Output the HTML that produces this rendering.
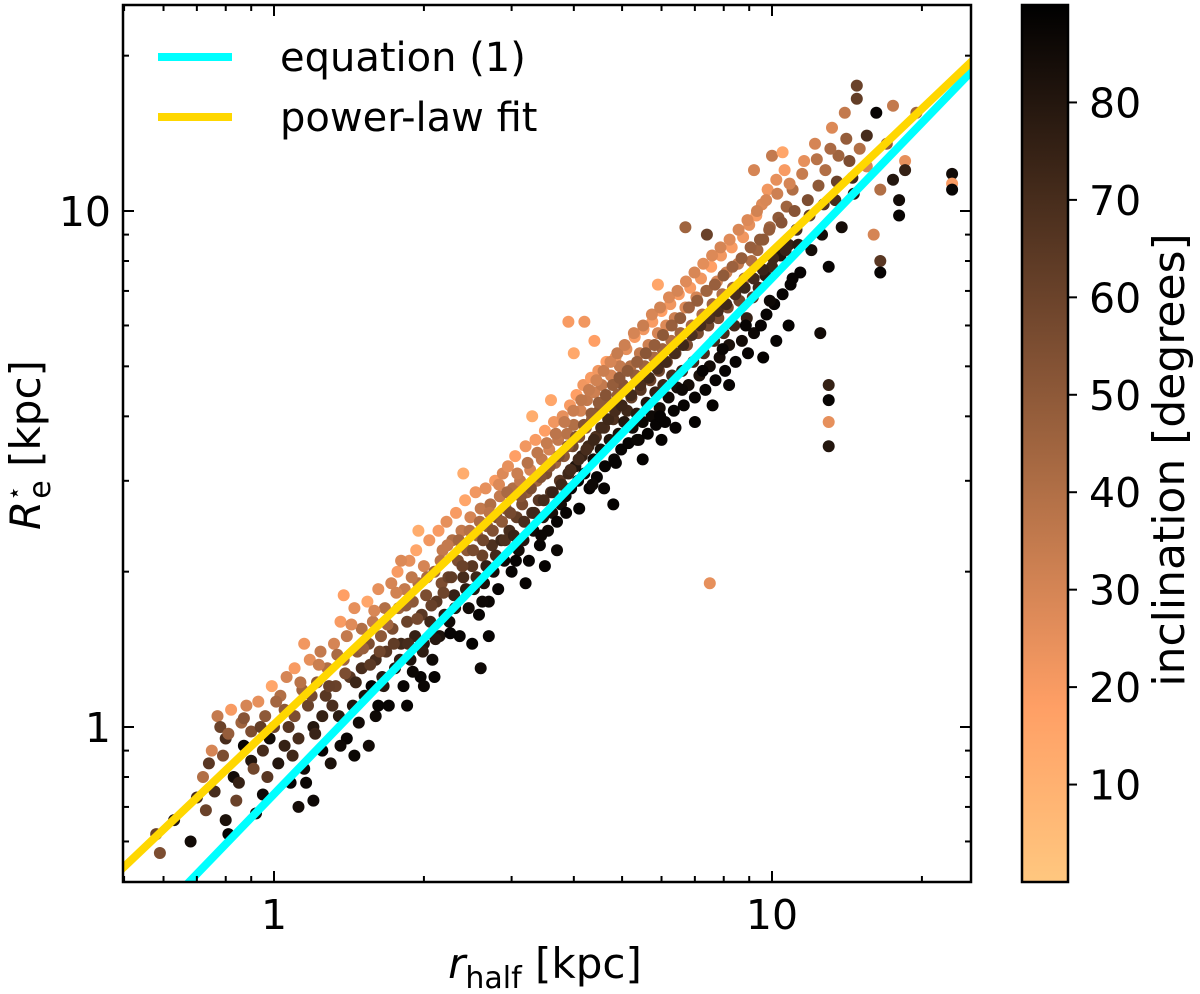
<!DOCTYPE html>
<html><head><meta charset="utf-8"><style>
html,body{margin:0;padding:0;background:#fff;}
svg{display:block;font-family:"DejaVu Sans","Liberation Sans",sans-serif;}
</style></head><body>
<svg id="chart" width="1200" height="994" viewBox="0 0 1200 994" xmlns="http://www.w3.org/2000/svg">
<defs>
<linearGradient id="cmap" x1="0" y1="1" x2="0" y2="0"></linearGradient>
<clipPath id="plotclip"><rect x="123" y="5" width="848" height="877"/></clipPath>
</defs>
<g id="points" clip-path="url(#plotclip)"></g>
<g id="lines" clip-path="url(#plotclip)"></g>
<g id="axes"></g>
<g id="legend">
<line x1="158" y1="57" x2="232" y2="57" stroke="#00FFFF" stroke-width="8"/>
<text x="280" y="71" font-size="40">equation (1)</text>
<line x1="158" y1="117" x2="232" y2="117" stroke="#FFD700" stroke-width="8"/>
<text x="280" y="131" font-size="40">power-law fit</text>
</g>
<text x="545" y="978" font-size="42" text-anchor="middle"><tspan font-style="italic">r</tspan><tspan font-size="30" dy="10">half</tspan><tspan dy="-10"> [kpc]</tspan></text>
<text transform="translate(40,445) rotate(-90)" font-size="42" text-anchor="middle"><tspan font-style="italic">R</tspan><tspan font-size="24" dy="-18">⋆</tspan><tspan font-size="30" dx="-13" dy="28">e</tspan><tspan dy="-10"> [kpc]</tspan></text>
<g id="cbar"></g>
<text transform="translate(1184,460) rotate(-90)" font-size="44" text-anchor="middle">inclination [degrees]</text>
</svg>
<script>
// ---- data ----
const rHalf = [0.58,0.59,0.63,0.68,0.7,0.72,0.74,0.75,0.73,
0.77,0.78,0.8,0.79,0.82,0.83,0.85,0.86,0.87,0.88,0.9,0.9,0.84,0.8,0.92,0.93,0.95,0.96,0.97,0.98,0.99,0.76,0.81,
1.0,1.02,1.03,1.05,1.06,1.08,1.1,1.1,1.12,1.14,1.15,1.17,1.18,1.2,1.2,1.22,1.24,1.25,1.27,1.28,1.3,1.15,1.05,1.25,1.12,
1.32,1.33,1.35,1.36,1.38,1.4,1.4,1.42,1.44,1.45,1.47,1.48,1.5,1.5,1.52,1.54,1.55,1.57,1.58,1.6,1.6,1.62,1.64,1.65,1.67,1.68,1.7,1.45,1.55,1.38,
1.72,1.73,1.75,1.77,1.78,1.8,1.82,1.83,1.85,1.87,1.88,1.9,1.92,1.93,1.95,1.97,1.98,2.0,2.0,2.02,2.05,2.06,2.08,2.1,2.12,2.14,2.15,2.17,2.18,2.2,1.85,2.0,2.1,1.95,1.8,
2.22,2.24,2.25,2.28,2.3,2.32,2.34,2.36,2.38,2.4,2.42,2.44,2.46,2.48,2.5,2.52,2.54,2.56,2.58,2.6,2.62,2.64,2.66,2.68,2.7,2.72,2.74,2.76,2.78,2.8,2.82,2.84,2.86,2.88,2.9,2.5,2.7,2.4,2.6,
2.92,2.95,2.97,3.0,3.02,3.05,3.07,3.1,3.12,3.15,3.17,3.2,3.22,3.25,3.27,3.3,3.32,3.35,3.37,3.4,3.42,3.45,3.47,3.5,3.52,3.55,3.57,3.6,3.62,3.65,3.67,3.7,3.72,3.75,3.77,3.8,3.2,3.5,3.7,3.3,3.6,
3.82,3.85,3.88,3.9,3.93,3.95,3.98,4.0,4.03,4.05,4.08,4.1,4.13,4.15,4.18,4.2,4.23,4.25,4.28,4.3,4.33,4.35,4.38,4.4,4.43,4.45,4.48,4.5,4.53,4.55,4.6,4.62,4.65,4.7,4.72,4.75,4.8,4.82,4.85,4.9,4.92,4.95,4.98,4.1,4.6,4.0,4.4,3.9,4.2,4.8,
5.02,5.05,5.1,5.12,5.15,5.2,5.22,5.25,5.3,5.33,5.35,5.4,5.43,5.45,5.5,5.52,5.55,5.6,5.63,5.65,5.7,5.73,5.75,5.8,5.83,5.85,5.9,5.93,5.95,6.0,6.03,6.05,6.1,6.13,6.15,6.2,6.25,6.28,6.3,6.35,6.38,6.4,6.45,6.5,5.5,6.0,6.4,5.9,
6.55,6.6,6.65,6.7,6.75,6.8,6.85,6.9,6.95,7.0,7.05,7.1,7.15,7.2,7.25,7.3,7.35,7.4,7.45,7.5,7.55,7.6,7.65,7.7,7.75,7.8,7.85,7.9,7.95,8.0,8.05,8.1,8.15,8.2,8.3,8.35,8.4,8.45,7.0,7.6,8.2,6.7,7.5,7.4,
8.55,8.6,8.7,8.75,8.8,8.9,8.95,9.0,9.1,9.15,9.2,9.3,9.35,9.4,9.5,9.55,9.6,9.7,9.75,9.8,9.9,10.0,10.1,10.2,10.3,10.4,10.5,10.6,10.7,10.8,10.9,10.0,9.2,10.5,9.6,10.2,10.8,
11.0,11.2,11.4,11.6,11.8,12.0,12.2,12.4,12.6,12.8,13.0,13.2,13.4,13.6,13.8,14.0,14.3,14.6,13.0,13.0,13.0,13.0,12.5,14.8,14.8,15.5,15.5,16.5,16.5,16.5,16.0,16.2,15.0,
17.0,17.5,18.0,18.5,18.5,18.0,23.0,23.0,23.0,19.5,17.5,
0.81,0.87,0.94,0.91,1.01,1.07,1.13,1.09,1.19,1.23,1.21,1.29,1.34,1.31,1.39,1.43,1.46,1.51,1.56,1.59,1.63,1.66,1.69,1.74,1.76,1.79,1.84,1.86,1.89,1.94,1.99,
2.03,2.07,2.11,2.16,2.19,2.23,2.27,2.31,2.35,2.39,2.43,2.47,2.51,2.55,2.59,2.63,2.67,2.71,2.75,2.79,2.83,2.87,2.91,2.94,2.98,
3.03,3.08,3.13,3.18,3.23,3.28,3.33,3.38,3.43,3.48,3.53,3.58,3.63,3.68,3.73,3.78,3.83,3.89,3.94,3.99,
4.04,4.09,4.14,4.19,4.24,4.29,4.34,4.39,4.44,4.49,4.54,4.59,4.64,4.69,4.74,4.79,4.84,4.89,4.94,4.99,
5.06,5.13,5.21,5.28,5.36,5.44,5.51,5.58,5.66,5.74,5.81,5.89,5.96,6.04,6.12,6.21,6.29,6.37,6.46,6.54,6.63,6.72,6.81,6.9,6.99,
7.08,7.18,7.28,7.38,7.48,7.58,7.68,7.78,7.88,7.99,8.09,8.22,8.33,8.44,8.57,8.69,8.81,8.93,9.06,9.19,9.33,9.46,9.59,9.73,9.87,
10.05,10.25,10.45,10.65,10.85,11.1,11.3,11.5,11.9,12.3,12.7,13.1,13.5,14.1,14.5,
0.95,1.16,1.36,1.62,1.9,2.26,2.62,3.06,3.44,3.86,4.36,4.86,5.36,5.96,6.6,7.26,7.96,8.86,9.9,11.0];
const reStar = [0.62,0.57,0.66,0.6,0.73,0.8,0.85,0.9,0.69,
1.05,1.0,0.95,0.88,1.08,0.8,0.78,1.02,0.92,1.1,0.86,0.98,0.72,0.66,0.68,1.12,0.9,1.05,0.8,0.95,1.2,0.75,0.62,
1.0,0.85,1.15,0.92,1.25,0.78,1.05,1.3,0.95,1.18,0.83,1.1,1.35,1.0,0.72,1.22,1.4,0.9,1.15,1.3,0.85,1.45,1.08,1.05,0.7,
1.45,1.2,1.05,1.6,1.35,0.95,1.5,1.25,1.1,1.7,1.4,1.02,1.55,1.3,1.15,1.75,1.45,1.2,1.6,1.35,1.05,1.85,1.5,1.25,1.7,1.4,1.1,0.88,0.92,1.8,
1.9,1.55,1.3,2.0,1.7,1.45,1.2,1.85,1.6,2.1,1.35,1.75,1.5,2.2,1.9,1.25,1.65,2.05,1.45,1.8,2.3,1.6,1.35,2.0,1.75,2.4,1.5,1.9,2.2,1.65,1.1,1.2,1.25,2.4,2.1,
2.5,1.95,1.6,2.3,1.8,2.6,2.1,1.5,2.4,1.95,2.75,2.2,1.7,2.55,2.05,1.85,2.85,2.35,1.65,2.65,2.15,1.9,2.9,2.45,1.75,2.7,2.25,2.0,3.0,2.55,1.85,2.8,2.3,3.1,2.1,1.45,1.5,3.1,1.3,
2.65,3.2,2.4,2.0,2.9,3.35,2.55,2.2,3.0,2.7,2.3,3.5,2.85,2.1,3.15,2.6,2.4,3.6,3.0,2.75,2.25,3.3,2.55,3.75,3.1,2.4,3.45,2.85,2.6,3.9,3.25,2.5,3.6,3.0,2.7,4.0,1.9,2.05,2.2,4.0,4.3,
3.35,2.8,3.7,3.1,4.2,2.9,3.5,3.85,3.2,4.4,3.0,3.65,4.1,3.35,4.6,3.1,3.8,4.3,3.5,2.9,4.75,3.95,3.3,4.45,3.65,3.05,4.9,4.1,3.45,4.6,3.8,3.2,5.1,4.25,3.6,4.8,3.95,3.3,5.2,4.4,3.7,5.0,3.45,2.65,2.9,5.3,5.6,6.1,6.1,2.7,
4.6,3.9,5.4,4.1,3.55,5.0,4.35,3.8,5.7,4.8,4.05,3.6,5.3,4.5,3.9,5.9,5.0,4.25,3.7,5.5,4.7,4.0,6.1,5.2,4.45,3.85,5.8,4.9,4.15,6.4,5.4,4.6,3.9,6.0,5.1,4.35,6.6,5.6,4.8,4.1,6.2,5.3,4.55,6.9,3.3,3.6,3.8,7.2,
5.8,4.9,4.2,6.5,5.5,4.6,7.1,6.0,5.1,4.35,6.8,5.8,4.8,7.4,6.3,5.3,4.5,7.0,6.0,5.0,7.8,6.6,5.6,4.7,7.3,6.2,5.2,8.2,6.9,5.8,4.9,7.6,6.5,5.5,8.5,7.1,6.0,5.1,3.9,4.2,4.6,9.3,1.9,9.0,
7.9,6.7,5.6,8.9,7.4,6.2,5.3,9.4,8.0,6.8,5.8,9.8,8.4,7.1,6.0,10.3,8.8,7.5,6.3,11.0,9.3,7.8,6.6,11.5,9.7,8.2,6.9,12.0,10.2,8.6,7.2,12.8,12.0,13.0,5.2,5.6,6.0,
11.0,9.2,7.6,12.5,10.5,8.4,13.5,11.2,9.0,12.0,7.8,14.5,10.5,12.8,9.3,15.5,12.5,10.8,4.6,4.3,3.9,3.5,5.8,16.5,17.5,14.0,12.2,11.0,8.0,7.6,9.0,15.5,13.2,
13.5,11.5,10.5,12.5,12.0,9.8,11.8,11.3,11.0,15.5,16.0,
0.97,1.04,1.0,0.83,1.12,1.0,1.22,0.88,1.15,1.32,0.97,1.2,1.38,1.1,1.27,1.58,1.22,1.42,1.32,1.68,1.4,1.2,1.58,1.45,1.82,1.35,1.72,1.45,1.95,1.62,1.4,
1.95,1.72,1.48,2.1,1.82,2.25,1.95,1.7,2.3,2.05,1.85,2.4,2.2,1.95,2.5,2.3,2.05,2.6,2.4,2.15,2.95,2.5,2.3,2.85,2.6,
2.35,3.1,2.8,2.5,3.25,2.9,2.6,3.4,3.05,2.75,3.55,3.2,2.85,3.7,3.35,2.95,3.9,3.5,3.15,4.1,
3.65,3.3,4.3,3.85,3.45,4.5,4.05,3.6,4.7,4.25,3.8,4.9,4.4,3.95,5.1,4.6,4.1,5.3,4.75,4.2,
5.5,4.9,4.4,5.8,5.1,4.6,6.0,5.3,4.75,6.3,5.5,4.95,6.5,5.75,5.1,6.8,6.0,5.3,7.0,6.2,5.5,7.3,6.5,5.75,7.6,
6.7,6.0,7.9,7.0,6.2,8.2,7.2,6.4,8.5,7.5,6.6,8.8,7.8,6.9,9.2,8.1,7.1,9.6,8.5,7.4,10.0,8.8,7.7,10.5,9.2,
8.1,10.8,9.5,8.4,11.3,10.0,8.6,11.8,9.8,12.6,10.3,13.2,11.4,13.8,11.6,
0.74,0.78,0.92,1.1,1.28,1.52,1.75,2.1,2.35,2.6,2.95,3.25,3.6,4.0,4.5,4.9,5.4,6.0,6.7,7.4];
const incl = [60,55,80,85,70,40,65,30,60,
35,60,70,55,20,85,75,45,88,30,80,55,60,82,85,25,70,50,65,85,15,70,88,
60,80,40,75,30,88,55,20,70,45,85,60,25,80,86,50,35,88,65,40,82,22,50,75,84,
30,60,78,20,45,88,35,65,80,25,50,85,40,70,82,15,55,88,35,70,86,25,50,78,40,65,88,87,85,18,
30,55,80,20,45,72,88,35,60,25,82,50,75,15,40,88,65,30,80,55,22,72,86,45,65,20,82,55,35,78,88,87,89,12,28,
25,60,85,40,75,20,55,88,35,70,15,50,85,30,65,80,22,45,88,35,60,82,25,50,87,40,68,84,20,55,88,35,72,28,86,89,88,12,86,
50,25,70,88,40,18,62,84,35,55,80,22,48,88,30,70,85,20,45,65,88,35,80,18,55,87,30,68,83,22,45,88,35,65,84,25,88,89,87,12,15,
50,86,38,72,20,88,58,40,80,18,88,55,30,75,22,87,50,35,72,89,20,48,84,32,68,88,22,52,82,35,70,88,18,50,80,30,68,87,22,48,82,35,88,89,88,14,18,20,22,89,
52,80,25,72,88,40,62,85,20,48,78,88,35,65,87,22,45,80,89,32,60,86,20,42,75,88,30,58,84,18,45,72,88,28,55,85,22,40,70,88,32,58,84,20,89,89,88,15,
45,75,88,28,55,84,20,42,72,88,30,55,82,22,40,70,88,32,58,85,18,45,72,88,30,55,84,22,40,70,88,32,55,82,20,45,72,88,89,89,88,45,25,60,
35,58,85,22,45,75,88,25,40,65,86,20,45,72,88,28,50,78,88,22,45,72,88,25,50,80,88,20,45,75,88,35,30,15,89,88,89,
40,70,88,25,55,84,30,50,85,40,88,28,70,45,84,35,55,80,75,88,25,80,85,62,60,70,30,40,65,88,30,88,40,
50,80,85,25,75,88,85,20,88,45,35,
48,52,62,58,44,66,38,72,57,33,74,61,42,69,55,27,73,47,64,29,58,79,44,63,31,76,49,70,36,57,77,
42,61,79,38,59,35,63,80,44,60,77,39,56,73,41,58,76,37,54,71,28,50,68,42,57,
74,33,52,69,38,55,72,36,53,70,34,51,74,37,55,72,35,52,70,33,
54,71,36,53,70,34,50,73,31,49,71,33,52,72,30,48,70,34,51,73,
32,50,71,30,47,69,33,51,72,29,48,70,31,50,71,28,47,70,30,49,72,27,46,68,29,
48,70,26,45,68,28,47,70,30,49,72,27,46,70,29,48,73,28,47,71,31,50,74,29,48,
72,32,52,74,30,52,78,34,62,38,66,42,60,48,72,
86,87,86,88,87,88,86,88,87,88,86,88,87,88,86,88,87,88,86,88];

// ---- scales ----
const X0 = 274, XDEC = 498, Y0 = 727, YDEC = 516;
const xPix = v => X0 + Math.log10(v) * XDEC;
const yPix = v => Y0 - Math.log10(v) * YDEC;
const CB_TOP = 5, CB_BOT = 882, CB_MAX = 90;
const cbPix = d => CB_BOT - d / CB_MAX * (CB_BOT - CB_TOP);
function copperR(d){
  const t = Math.max(0, Math.min(1, 1 - d / CB_MAX));
  const r = Math.min(1, 1.25 * t), g = 0.7812 * t, b = 0.4975 * t;
  return `rgb(${Math.round(r*255)},${Math.round(g*255)},${Math.round(b*255)})`;
}
const NS = "http://www.w3.org/2000/svg";
function mk(tag, attrs, parent){
  const e = document.createElementNS(NS, tag);
  for (const k in attrs) e.setAttribute(k, attrs[k]);
  parent.appendChild(e);
  return e;
}

// ---- points ----
const gp = document.getElementById('points');
rHalf.forEach((xv, i) => {
  const c = mk('circle', {cx: xPix(xv).toFixed(1), cy: yPix(reStar[i]).toFixed(1), r: 6, fill: copperR(incl[i])}, gp);
  
  
});

// ---- lines ----
const eqSlope = 1.0, eqLogNorm = -0.13;
const plSlope = 0.917, plLogNorm = 0.005;
const lineX = [0.45, 27];
const gl = document.getElementById('lines');
function drawLine(slope, norm, color, name){
  const ys = lineX.map(x => Math.pow(10, norm + slope * Math.log10(x)));
  const l = mk('line', {x1: xPix(lineX[0]), y1: yPix(ys[0]), x2: xPix(lineX[1]), y2: yPix(ys[1]), stroke: color, 'stroke-width': 8}, gl);
  
  
}
drawLine(eqSlope, eqLogNorm, '#00FFFF', 'equation-1-line');
drawLine(plSlope, plLogNorm, '#FFD700', 'power-law-fit-line');

// ---- axes ----
const ga = document.getElementById('axes');
const L = 123, R = 971, T = 5, B = 882;
const xMajor = [1, 10], xMajorLabels = ['1', '10'];
const xMinor = [0.5,0.6,0.7,0.8,0.9,2,3,4,5,6,7,8,9,20];
const yMajor = [1, 10], yMajorLabels = ['1', '10'];
const yMinor = [0.6,0.7,0.8,0.9,2,3,4,5,6,7,8,9,20];
function tick(x1,y1,x2,y2,name){
  const t = mk('line', {x1,y1,x2,y2,stroke:'#000','stroke-width':2}, ga);
  
  
}
xMajor.forEach((v,i) => {
  const p = xPix(v);
  tick(p,B,p,B-11,'x-major-tick'); tick(p,T,p,T+11,'x-major-tick-top');
  const t = mk('text', {x:p, y:B+47, 'font-size':41, 'text-anchor':'middle'}, ga);
  t.textContent = xMajorLabels[i];
  
  
});
xMinor.forEach(v => { const p = xPix(v); if(p>L&&p<R){ tick(p,B,p,B-6,'x-minor-tick'); tick(p,T,p,T+6,'x-minor-tick-top'); } });
yMajor.forEach((v,i) => {
  const p = yPix(v);
  tick(L,p,L+11,p,'y-major-tick'); tick(R,p,R-11,p,'y-major-tick-right');
  const t = mk('text', {x:L-12, y:p+15, 'font-size':41, 'text-anchor':'end'}, ga);
  t.textContent = yMajorLabels[i];
  
  
});
yMinor.forEach(v => { const p = yPix(v); if(p>T&&p<B){ tick(L,p,L+6,p,'y-minor-tick'); tick(R,p,R-6,p,'y-minor-tick-right'); } });
const frame = mk('rect', {x:L, y:T, width:R-L, height:B-T, fill:'none', stroke:'#000', 'stroke-width':2.5}, ga);



// ---- colorbar ----
const grad = document.getElementById('cmap');
for (let s = 0; s <= 10; s++){
  mk('stop', {offset: (s*10)+'%', 'stop-color': copperR(s*9)}, grad);
}
const gc = document.getElementById('cbar');
const cbTicks = [10,20,30,40,50,60,70,80];
const cbr = mk('rect', {x:1022, y:CB_TOP, width:46, height:CB_BOT-CB_TOP, fill:'url(#cmap)', stroke:'#000', 'stroke-width':2.5}, gc);


cbTicks.forEach(d => {
  const p = cbPix(d);
  const t = mk('line', {x1:1068, y1:p, x2:1077, y2:p, stroke:'#000', 'stroke-width':2}, gc);
  
  
  const lb = mk('text', {x:1089, y:p+15, 'font-size':41}, gc);
  lb.textContent = String(d);
  
  
});
</script>
</body></html>
